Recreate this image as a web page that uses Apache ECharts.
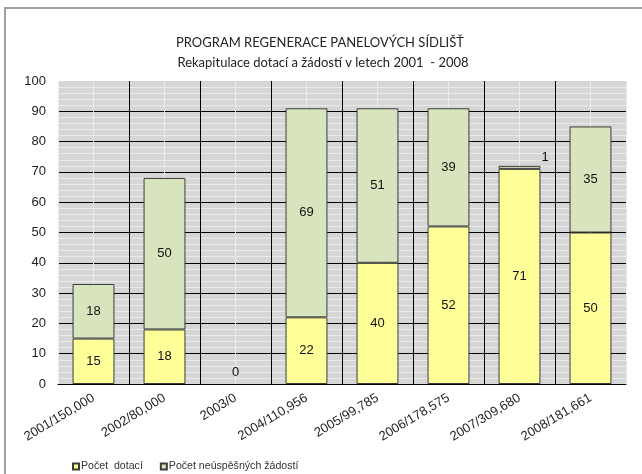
<!DOCTYPE html>
<html>
<head>
<meta charset="utf-8">
<script src="https://cdn.jsdelivr.net/npm/echarts@6/dist/echarts.min.js"></script>
<style>
  html, body { margin: 0; padding: 0; background: #fff; }
  #chart { width: 642px; height: 474px; }
</style>
</head>
<body>
<div id="chart"></div>
<script>
// Years with the total amount granted per year
const categories = ['2001/150,000', '2002/80,000', '2003/0', '2004/110,956',
                    '2005/99,785', '2006/178,575', '2007/309,680', '2008/181,661'];
// Number of grants awarded
const grants = [15, 18, 0, 22, 40, 52, 71, 50];
// Number of unsuccessful applications
const rejected = [18, 50, 0, 69, 51, 39, 1, 35];
const yTicks = { min: 0, max: 100, step: 10 };

const seriesNames = ['Počet  dotací', 'Počet neúspěšných žádostí'];

const chart = echarts.init(document.getElementById('chart'), null, { renderer: 'canvas' });

const barBorder = { borderColor: '#3c3c3c', borderWidth: 1 };
const labelFont = { fontFamily: 'Arial, "Liberation Sans", sans-serif', fontSize: 13, color: '#111' };

chart.setOption({
  animation: false,
  backgroundColor: '#fff',
  graphic: [{
    type: 'rect',
    shape: { x: 5, y: 8, width: 700, height: 500 },
    style: { fill: 'none', stroke: '#a0a0a0', lineWidth: 2 },
    silent: true
  }],
  title: [{
    text: 'PROGRAM REGENERACE PANELOVÝCH SÍDLIŠŤ',
    left: 315, top: 31, textAlign: 'center',
    textStyle: { fontFamily: 'Lato, "Open Sans", sans-serif', fontSize: 13, fontWeight: 'normal', color: '#222' }
  }, {
    text: 'Rekapitulace dotací a žádostí v letech 2001  - 2008',
    left: 318, top: 51, textAlign: 'center',
    textStyle: { fontFamily: 'Lato, "Open Sans", sans-serif', fontSize: 13, fontWeight: 'normal', color: '#222' }
  }],
  legend: {
    left: 67, top: 456,
    icon: 'rect', itemWidth: 6, itemHeight: 6, itemGap: 17,
    textStyle: { fontFamily: 'Arial, "Liberation Sans", sans-serif', fontSize: 10.6, color: '#333', padding: [0, 0, 0, -3] },
    data: seriesNames
  },
  grid: {
    left: 58, right: 16, top: 81, bottom: 90,
    show: true, backgroundColor: '#d6d6d6', borderWidth: 0
  },
  xAxis: [{
    type: 'category',
    data: categories,
    z: 1,
    axisLine: { show: true, lineStyle: { color: '#000', width: 1 } },
    axisTick: { show: false },
    axisLabel: {
      interval: 0, rotate: 31, margin: 13,
      fontFamily: 'Arial, "Liberation Sans", sans-serif', fontSize: 13, color: '#222'
    },
    splitLine: {
      show: true, interval: 0, showMinLine: false, showMaxLine: false,
      lineStyle: { color: '#000', width: 1 }
    }
  }, {
    // half-category guide lines through the bar centres
    type: 'value', min: 0, max: categories.length * 2, interval: 1,
    position: 'top', show: true, z: 0,
    axisLine: { show: false }, axisTick: { show: false }, axisLabel: { show: false },
    splitLine: { show: true, lineStyle: { color: '#ececec', width: 1 } }
  }],
  yAxis: {
    type: 'value',
    min: yTicks.min, max: yTicks.max, interval: yTicks.step,
    axisLine: { show: false },
    axisTick: { show: false },
    axisLabel: {
      margin: 12,
      fontFamily: 'Arial, "Liberation Sans", sans-serif', fontSize: 13, color: '#222'
    },
    splitLine: { show: true, showMaxLine: false, lineStyle: { color: '#000', width: 1 } },
    minorTick: { show: false, splitNumber: 5 },
    minorSplitLine: { show: true, lineStyle: { color: '#ebebeb', width: 1 } }
  },
  series: [{
    name: seriesNames[0],
    type: 'bar',
    stack: 'total',
    barWidth: '59%',
    itemStyle: Object.assign({ color: '#ffff99' }, barBorder),
    label: Object.assign({ show: true, position: 'inside' }, labelFont),
    data: grants.map(v => v === 0
      ? { value: v, itemStyle: { borderWidth: 0 }, label: { position: 'top', distance: 5 } }
      : v)
  }, {
    name: seriesNames[1],
    type: 'bar',
    stack: 'total',
    barWidth: '59%',
    itemStyle: Object.assign({ color: '#d7e4bd' }, barBorder),
    label: Object.assign({ show: true, position: 'inside' }, labelFont),
    data: rejected.map(v => {
      if (v === 0) return { value: v, itemStyle: { borderWidth: 0 }, label: { show: false } };
      if (v < 3) return { value: v, label: { position: [43, -15], align: 'left', verticalAlign: 'top' } };
      return v;
    })
  }]
});
</script>
</body>
</html>
